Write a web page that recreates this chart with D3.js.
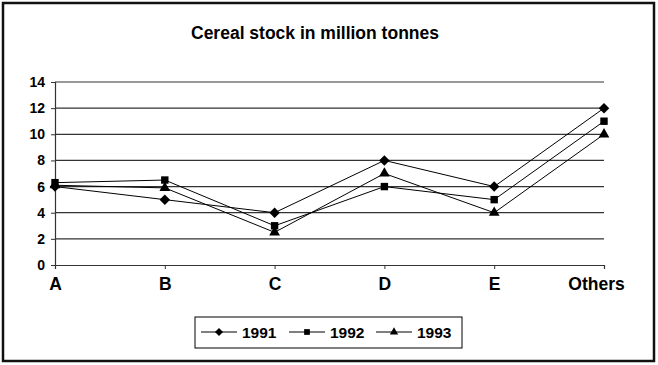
<!DOCTYPE html>
<html><head><meta charset="utf-8">
<script src="https://cdn.jsdelivr.net/npm/d3@7"></script>
<style>body{margin:0;background:#fff}svg{display:block}</style>
</head><body>
<script>
const categories = ["A","B","C","D","E","Others"];
const v1991 = [6, 5, 4, 8, 6, 12];
const v1992 = [6.3, 6.5, 3, 6, 5, 11];
const v1993 = [6.1, 5.9, 2.5, 7, 4, 10];
const seriesNames = ["1991","1992","1993"];
const yTicks = [0,2,4,6,8,10,12,14];

const W = 658, H = 365;
const FONT = "Liberation Sans, Arial, sans-serif";
const svg = d3.select("body").append("svg").attr("width", W).attr("height", H);
svg.append("rect").attr("x",3).attr("y",3).attr("width",651).attr("height",358)
  .attr("fill","#fff").attr("stroke","#111").attr("stroke-width",2.5);

svg.append("text").attr("x",315).attr("y",39).attr("text-anchor","middle")
  .attr("font-family",FONT).attr("font-weight","bold")
  .attr("font-size",17.5).text("Cereal stock in million tonnes");

const x = d3.scalePoint().domain(categories).range([55, 604]);
const y = d3.scaleLinear().domain([0,14]).range([265, 82]);

// gridlines
svg.append("g").selectAll("line").data(yTicks.filter(d=>d>0)).join("line")
  .attr("x1",55).attr("x2",604).attr("y1",d=>y(d)).attr("y2",d=>y(d))
  .attr("stroke","#333").attr("stroke-width",1.2);

const yAxis = svg.append("g").attr("transform","translate(55,0)")
  .call(d3.axisLeft(y).tickValues(yTicks).tickSize(4).tickPadding(6));
yAxis.select(".domain").attr("stroke","#333").attr("stroke-width",1.2);
yAxis.selectAll(".tick line").attr("stroke","#333");
yAxis.selectAll("text").attr("font-family",FONT)
  .attr("font-weight","bold").attr("font-size",14).attr("fill","#000");

const xAxis = svg.append("g").attr("transform","translate(0,265)")
  .call(d3.axisBottom(x).tickSize(4).tickPadding(9));
xAxis.select(".domain").attr("stroke","#333").attr("stroke-width",1.2);
xAxis.selectAll(".tick line").attr("stroke","#333");
xAxis.selectAll("text").attr("font-family",FONT)
  .attr("font-weight","bold").attr("font-size",17.5).attr("fill","#000")
  .attr("dx", d => d === "Others" ? -8 : 0);

const diamond = { draw(ctx, size){ const r = Math.sqrt(size/2); ctx.moveTo(0,-r); ctx.lineTo(r,0); ctx.lineTo(0,r); ctx.lineTo(-r,0); ctx.closePath(); } };
const series = [
  {name:seriesNames[0], vals:v1991, sym:diamond, size:55},
  {name:seriesNames[1], vals:v1992, sym:d3.symbolSquare, size:55},
  {name:seriesNames[2], vals:v1993, sym:d3.symbolTriangle, size:50}
];
const line = d3.line().x((d,i)=>x(categories[i])).y(d=>y(d));
series.forEach(s=>{
  svg.append("path").datum(s.vals).attr("d",line).attr("fill","none")
    .attr("stroke","#000").attr("stroke-width",1);
  svg.append("g").selectAll("path").data(s.vals).join("path")
    .attr("transform",(d,i)=>`translate(${x(categories[i])},${y(d)})`)
    .attr("d",d3.symbol(s.sym,s.size)).attr("fill","#000");
});

// legend
svg.append("rect").attr("x",195).attr("y",317).attr("width",267).attr("height",31)
  .attr("fill","#fff").attr("stroke","#000").attr("stroke-width",1);
const legX = [201, 289, 376];
series.forEach((s,i)=>{
  const g = svg.append("g").attr("transform",`translate(${legX[i]},332)`);
  g.append("line").attr("x1",0).attr("x2",36).attr("stroke","#000");
  g.append("path").attr("transform","translate(18,0)").attr("d",d3.symbol(s.sym,s.size*0.6)).attr("fill","#000");
  g.append("text").attr("x",41).attr("y",5.5).attr("font-family",FONT)
    .attr("font-weight","bold").attr("font-size",15.5).text(s.name);
});
</script>
</body></html>
